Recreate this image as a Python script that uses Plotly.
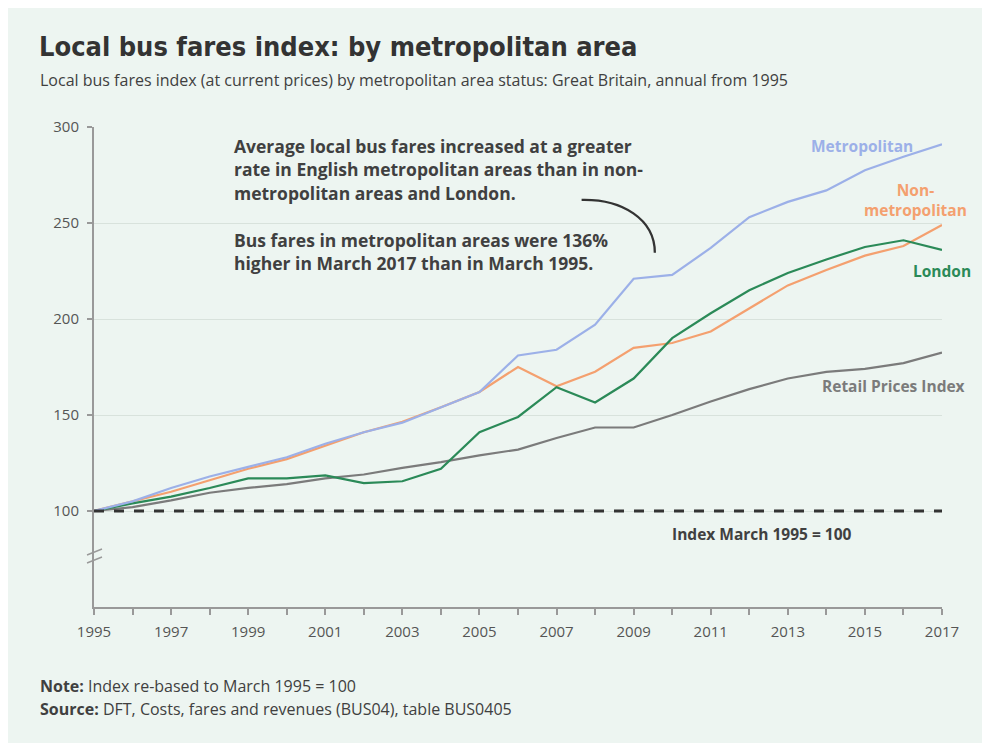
import plotly.graph_objects as go

years = list(range(1995, 2018))
metropolitan = [100, 105, 112, 118, 123, 128, 135, 141, 146, 154, 162, 181, 184, 197, 221, 223, 237, 253, 261, 267, 277.5, 284.5, 291]
non_metropolitan = [100, 105, 110, 116, 122, 127, 134, 141, 146.5, 154, 162, 175, 165, 172.5, 185, 187.5, 193.5, 205.5, 217.5, 225.5, 233, 238, 249]
london = [100, 104, 107.5, 112, 117, 117, 118.5, 114.5, 115.5, 122, 141, 149, 164.5, 156.5, 169, 190, 203, 215, 224, 231, 237.5, 241, 236]
rpi = [100, 102, 105.5, 109.5, 112, 114, 117, 119, 122.5, 125.5, 129, 132, 138, 143.5, 143.5, 150, 157, 163.5, 169, 172.5, 174, 177, 182.5]

BG = '#edf5f1'
TXT = '#404040'

# page pixel -> paper coords (plot area spans x 94..942, y 127..607 on the page)
def px_x(px):
    return (px - 94) / 848

def px_y(py):
    return (607 - py) / 480

fig = go.Figure()
fig.add_trace(go.Scatter(x=years, y=rpi, mode='lines', line=dict(color='#7b7b7b', width=2.2), name='Retail Prices Index'))
fig.add_trace(go.Scatter(x=years, y=non_metropolitan, mode='lines', line=dict(color='#f4a06f', width=2.2), name='Non-metropolitan'))
fig.add_trace(go.Scatter(x=years, y=london, mode='lines', line=dict(color='#2b8a58', width=2.2), name='London'))
fig.add_trace(go.Scatter(x=years, y=metropolitan, mode='lines', line=dict(color='#9cb0e8', width=2.2), name='Metropolitan'))

shapes = [
    # index = 100 line
    dict(type='line', xref='paper', yref='y', x0=0, x1=1, y0=100, y1=100,
         line=dict(color='#333333', width=3, dash='10px,10px')),
    # axis break marks
    dict(type='line', xref='paper', yref='paper', x0=px_x(87), x1=px_x(102), y0=px_y(555), y1=px_y(549),
         line=dict(color='#999999', width=1.5)),
    dict(type='line', xref='paper', yref='paper', x0=px_x(87), x1=px_x(102), y0=px_y(563), y1=px_y(557),
         line=dict(color='#999999', width=1.5)),
    # curved pointer
    dict(type='path', xref='x', yref='y',
         path='M 2007.65,262 C 2008.7,262.5 2009.55,252 2009.55,234.5',
         line=dict(color='#333333', width=2.3)),
]

annotations = []
def label(text, x, y, color, size=15.5, bold=True, xanchor='center', xref='x', yref='y'):
    annotations.append(dict(text='<b>%s</b>' % text if bold else text, x=x, y=y, xref=xref, yref=yref,
                            xanchor=xanchor, yanchor='middle', showarrow=False,
                            font=dict(color=color, size=size, family='Open Sans')))

label('Metropolitan', 2014.93, 290, '#9cb0e8')
label('Non-<br>metropolitan', 2016.3, 262, '#f4a06f')
label('London', 2017, 225, '#2b8a58')
label('Retail Prices Index', 2015.75, 165, '#7b7b7b')
label('Index March 1995 = 100', 2012.33, 88, TXT)

note_lines = [
    ('Average local bus fares increased at a greater', 146),
    ('rate in English metropolitan areas than in non-', 169),
    ('metropolitan areas and London.', 193),
    ('Bus fares in metropolitan areas were 136%', 240),
    ('higher in March 2017 than in March 1995.', 263),
]
for t, py in note_lines:
    label(t, px_x(232), px_y(py), TXT, size=17.5, xanchor='left', xref='paper', yref='paper')

annotations.append(dict(text='<b>Local bus fares index: by metropolitan area</b>', x=px_x(37), y=px_y(47),
                        xref='paper', yref='paper', xanchor='left', yanchor='middle', showarrow=False,
                        font=dict(size=27, color='#333333', family='DejaVu Sans Condensed')))
annotations.append(dict(text='Local bus fares index (at current prices) by metropolitan area status: Great Britain, annual from 1995',
                        x=px_x(38), y=px_y(80), xref='paper', yref='paper', xanchor='left', yanchor='middle',
                        showarrow=False, font=dict(size=16, color=TXT, family='Open Sans')))
annotations.append(dict(text='<b>Note:</b> Index re-based to March 1995 = 100', x=px_x(38), y=px_y(686),
                        xref='paper', yref='paper', xanchor='left', yanchor='middle', showarrow=False,
                        font=dict(size=16, color=TXT, family='Open Sans')))
annotations.append(dict(text='<b>Source:</b> DFT, Costs, fares and revenues (BUS04), table BUS0405', x=px_x(38), y=px_y(709),
                        xref='paper', yref='paper', xanchor='left', yanchor='middle', showarrow=False,
                        font=dict(size=16, color=TXT, family='Open Sans')))

fig.update_layout(
    width=982, height=735, autosize=False,
    margin=dict(l=86, r=48, t=119, b=136),
    paper_bgcolor=BG, plot_bgcolor=BG,
    showlegend=False, shapes=shapes, annotations=annotations,
    font=dict(family='Open Sans', color='#555555', size=15),
)
fig.update_xaxes(range=[1995, 2017], tickvals=years,
                 ticktext=[str(y) if (y - 1995) % 2 == 0 else '' for y in years],
                 showgrid=False, zeroline=False, showline=True, linecolor='#999999', linewidth=2,
                 ticks='outside', ticklen=6, tickcolor='#999999', tickwidth=1.5,
                 ticklabelstandoff=4, tickfont=dict(size=15, color='#555555'))
fig.update_yaxes(range=[50, 300], tickvals=[100, 150, 200, 250, 300],
                 showgrid=True, gridcolor='#d8e2dc', gridwidth=1, zeroline=False,
                 showline=True, linecolor='#999999', linewidth=2,
                 ticks='outside', ticklen=5, tickcolor='#999999', tickwidth=1.5,
                 ticklabelstandoff=5, tickfont=dict(size=15, color='#555555'))

fig.write_html("out.html")
